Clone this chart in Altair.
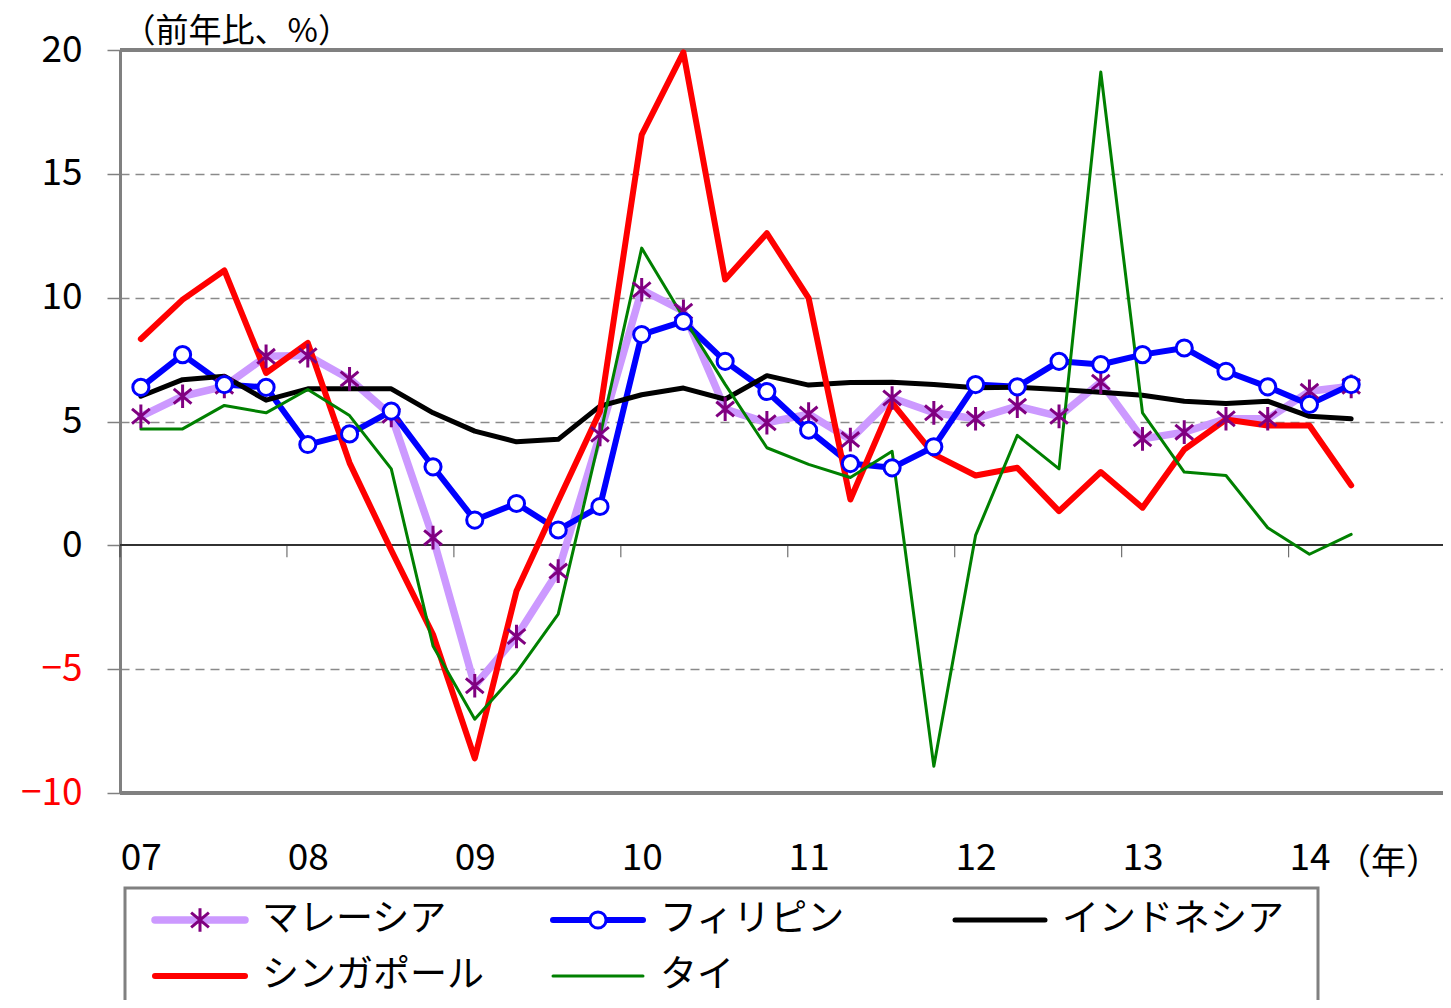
import altair as alt
import pandas as pd

# ---------------- data ----------------
years = ["07", "08", "09", "10", "11", "12", "13", "14"]
quarters = [f"{y}Q{q}" for y in years for q in range(1, 5)][:30]

series_names = ["マレーシア", "フィリピン", "インドネシア", "シンガポール", "タイ"]

malaysia = [5.21, 6.02, 6.42, 7.63, 7.66, 6.72, 5.25, 0.31, -5.67, -3.68,
            -1.04, 4.48, 10.32, 9.45, 5.50, 4.95, 5.30, 4.27, 5.95, 5.35,
            5.11, 5.62, 5.21, 6.59, 4.30, 4.57, 5.11, 5.11, 6.22, 6.42]
philippines = [6.38, 7.70, 6.49, 6.38, 4.07, 4.50, 5.42, 3.17, 1.02, 1.69,
               0.62, 1.57, 8.51, 9.04, 7.43, 6.21, 4.65, 3.30, 3.13, 3.98,
               6.49, 6.40, 7.43, 7.30, 7.70, 7.97, 7.03, 6.40, 5.69, 6.49]
indonesia = [6.02, 6.69, 6.83, 5.86, 6.32, 6.32, 6.32, 5.35, 4.61, 4.18,
             4.28, 5.62, 6.08, 6.35, 5.90, 6.85, 6.47, 6.57, 6.58, 6.49,
             6.36, 6.38, 6.29, 6.18, 6.06, 5.82, 5.73, 5.82, 5.21, 5.11]
singapore = [8.33, 9.92, 11.10, 6.96, 8.17, 3.33, -0.20, -3.60, -8.60, -1.84,
             1.80, 5.40, 16.57, 19.90, 10.73, 12.60, 9.98, 1.85, 5.75, 3.67,
             2.82, 3.13, 1.38, 2.96, 1.52, 3.87, 5.08, 4.84, 4.84, 2.42]
thailand = [4.70, 4.70, 5.65, 5.35, 6.29, 5.24, 3.09, -4.06, -7.02, -5.13,
            -2.78, 4.40, 12.00, 9.20, 6.50, 3.94, 3.27, 2.74, 3.80, -8.92,
            0.40, 4.44, 3.09, 19.11, 5.35, 2.96, 2.82, 0.71, -0.36, 0.44]

series_values = [malaysia, philippines, indonesia, singapore, thailand]
line_colors = ["#CC99FF", "#0000FF", "#000000", "#FF0000", "#008000"]
line_widths = [7.5, 6, 5, 6, 3]

y_ticks = [-10, -5, 0, 5, 10, 15, 20]
year_positions = [4 * i for i in range(len(years))]
boundaries = [-0.5 + 4 * i for i in range(len(years))]

rows = []
for name, vals in zip(series_names, series_values):
    for i, v in enumerate(vals):
        rows.append({"t": i, "quarter": quarters[i], "series": name, "value": v})
df = pd.DataFrame(rows)
bound_df = pd.DataFrame({"t": boundaries})

# ---------------- layout ----------------
W, H = 1323, 743
XMAX = 31.2
FONT = "Noto Sans CJK JP"
GREY = "#808080"
ASTERISK = "M0,-1L0,1M-0.75,-0.62L0.75,0.62M-0.75,0.62L0.75,-0.62"
AST_SIZE = 560
CIRC_SIZE = 260

label_expr = "[" + ",".join(f"'{y}'" for y in years) + "][datum.value / 4]"

x_axis = alt.Axis(
    values=year_positions, labelExpr=label_expr, domain=False, ticks=False,
    tickSize=0, grid=False, labelFontSize=37, labelColor="black",
    labelPadding=47, labelFont=FONT, title="（年）", titleFont=FONT,
    titleFontSize=35, titleFontWeight="normal", titleX=1268, titleY=69,
    titleAlign="center", titleBaseline="middle", titleAngle=0,
)
y_axis = alt.Axis(
    values=y_ticks, format="d", domainColor=GREY, domainWidth=3,
    tickColor=GREY, tickSize=13, tickWidth=1.5,
    labelFontSize=37, labelFont=FONT, labelPadding=25,
    labelColor={"condition": {"test": "datum.value < 0", "value": "#FF0000"},
                "value": "#000000"},
    grid=True, gridDash=[9, 6], gridColor="#8a8a8a", gridWidth=1.5,
    gridOpacity={"condition": {"test": "datum.value == 0 || datum.value == 20 || datum.value == -10",
                               "value": 0}, "value": 1},
    title="（前年比、%）", titleFont=FONT, titleFontSize=33,
    titleFontWeight="normal", titleAngle=0, titleAlign="left",
    titleBaseline="middle", titleX=2, titleY=-19,
)

x_enc = alt.X("t:Q", scale=alt.Scale(domain=[-0.5, XMAX], nice=False, zero=False),
              axis=x_axis)
y_enc = alt.Y("value:Q", scale=alt.Scale(domain=[-10, 20], nice=False, zero=False),
              axis=y_axis)

base = alt.Chart(df)

layers = []

# frame top/bottom and zero line
layers.append(base.mark_rule(color=GREY, strokeWidth=3).encode(y=alt.datum(20)))
layers.append(base.mark_rule(color=GREY, strokeWidth=3).encode(y=alt.datum(-10)))
layers.append(base.mark_rule(color="#333333", strokeWidth=1.2).encode(y=alt.datum(0)))
layers.append(
    alt.Chart(bound_df).mark_tick(orient="vertical", size=12, yOffset=6,
                                   thickness=1.2, color="#333333")
    .encode(x=x_enc, y=alt.datum(0))
)

# series lines
for name, col, w in zip(series_names, line_colors, line_widths):
    layers.append(
        base.transform_filter(alt.datum.series == name)
        .mark_line(color=col, strokeWidth=w, strokeJoin="round", strokeCap="round")
        .encode(x=x_enc, y=y_enc, order="t:Q")
    )

# markers
layers.append(
    base.transform_filter(alt.datum.series == series_names[0])
    .mark_point(shape=ASTERISK, filled=False, color="#800080", strokeWidth=3,
                size=AST_SIZE, opacity=1)
    .encode(x=x_enc, y=y_enc)
)
layers.append(
    base.transform_filter(alt.datum.series == series_names[1])
    .mark_point(shape="circle", filled=True, fill="white", stroke="#0000FF",
                strokeWidth=3, size=CIRC_SIZE, opacity=1)
    .encode(x=x_enc, y=y_enc)
)

# ---------------- legend (manual box) ----------------
one = pd.DataFrame({"k": [0]})
LEG_LEFT, LEG_RIGHT, LEG_TOP, LEG_BOTTOM = 5, 1198, 838, 1000
layers.append(
    alt.Chart(one).mark_rect(fill="white", stroke=GREY, strokeWidth=3)
    .encode(x=alt.value(LEG_LEFT), x2=alt.value(LEG_RIGHT),
            y=alt.value(LEG_TOP), y2=alt.value(LEG_BOTTOM))
)
col_starts = [35, 433, 835]
row_ys = [870, 926]
LINE_LEN = 90
for idx, (name, col, w) in enumerate(zip(series_names, line_colors, line_widths)):
    r, c = divmod(idx, 3)
    x0 = col_starts[c]
    yy = row_ys[r]
    layers.append(
        alt.Chart(one).mark_rule(color=col, strokeWidth=w, strokeCap="round")
        .encode(x=alt.value(x0), x2=alt.value(x0 + LINE_LEN), y=alt.value(yy))
    )
    if idx == 0:
        layers.append(
            alt.Chart(one).mark_point(shape=ASTERISK, filled=False, color="#800080",
                                      strokeWidth=3, size=AST_SIZE, opacity=1)
            .encode(x=alt.value(x0 + LINE_LEN / 2), y=alt.value(yy))
        )
    if idx == 1:
        layers.append(
            alt.Chart(one).mark_point(shape="circle", filled=True, fill="white",
                                      stroke="#0000FF", strokeWidth=3, size=CIRC_SIZE,
                                      opacity=1)
            .encode(x=alt.value(x0 + LINE_LEN / 2), y=alt.value(yy))
        )
    layers.append(
        alt.Chart(one).mark_text(align="left", baseline="middle", font=FONT,
                                 fontSize=37, color="black")
        .encode(x=alt.value(x0 + 107), y=alt.value(yy), text=alt.value(name))
    )

chart = (
    alt.layer(*layers)
    .properties(
        width=W, height=H,
        autosize=alt.AutoSizeParams(type="none"),
        padding={"left": 112, "top": 42, "right": 0, "bottom": 207},
        background="white",
    )
    .configure_view(fill="#FFFFCC", stroke="transparent")
    .configure(font=FONT)
)

chart.save("out.html", embed_options={"renderer": "svg", "actions": False})
